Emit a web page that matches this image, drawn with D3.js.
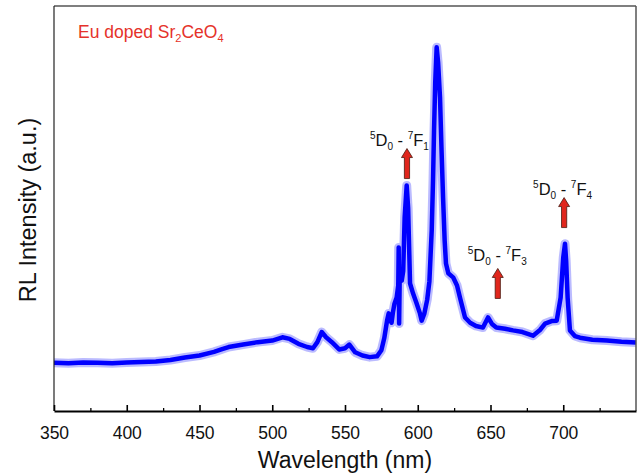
<!DOCTYPE html>
<html>
<head>
<meta charset="utf-8">
<script src="https://cdn.jsdelivr.net/npm/d3@7"></script>
<style>
  body { margin: 0; background: #fff; }
  text { font-family: "Liberation Sans", Arial, sans-serif; }
</style>
</head>
<body>
<script>
// spectrum (wavelength in nm, intensity in a.u.)
var wavelength = [350, 360, 370, 380, 390, 400, 410, 420, 430, 440, 450, 460, 465, 470, 480, 490,
  500, 507, 512, 518, 524, 528, 531, 534, 537, 541, 546, 550, 553, 557, 562, 567, 572, 575, 577,
  579, 580, 581, 582, 583, 584, 585.5, 586.6, 586.9, 587.2, 587.6, 589, 590, 591, 592.4, 593.4,
  594.7, 596.8, 599, 601.5, 602.7, 604.5, 606.5, 608, 609.6, 610.5, 611.2, 612, 613, 614, 615.3,
  616.3, 617.4, 618.5, 619.4, 621, 624.3, 627, 629, 632.5, 636, 640, 644.8, 648.3, 651, 654, 660,
  665.5, 672, 679.2, 684, 687.5, 692, 695.5, 698.2, 700, 701.2, 702, 703, 704.6, 708, 711.5, 720,
  730, 740, 750];
var intensity = [119, 118, 120, 119, 118, 120, 121, 122, 126, 132, 137, 146, 152, 158, 164, 170,
  174, 182, 178, 166, 158, 155, 170, 195, 182, 170, 152, 155, 164, 145, 137, 133, 135, 150, 180,
  225, 241, 225, 218, 245, 265, 280, 310, 404, 216, 330, 322, 345, 478, 557, 500,
  315, 290, 268, 241, 223, 240, 275, 320, 446, 570, 693, 810, 898, 860, 774,
  650, 527, 420, 364, 340, 330, 310, 280, 231, 218, 210, 206, 231, 215, 206, 203,
  199, 195, 186, 200, 216, 222, 223, 280, 379, 413, 370, 280, 199, 185, 181, 176,
  174, 171, 169];

var xTicks = [350, 400, 450, 500, 550, 600, 650, 700];
var xMinorTicks = [375, 425, 475, 525, 575, 625, 675, 725];

// transition labels: arrow at wavelength, arrow tip at intensity
var lineUpper = ['1', '3', '4'];
var arrowWl = [592.6, 655, 700.6];
var arrowTip = [648, 352, 527];

var W = 638, H = 476;
var mLeft = 54, mRight = 636, mTop = 6, mBottom = 411;

var svg = d3.select('body').append('svg')
  .attr('width', W)
  .attr('height', H);

var x = d3.scaleLinear().domain([350, 750]).range([mLeft, mRight]);
var y = d3.scaleLinear().domain([0, 1000]).range([mBottom, mTop]);

svg.append('clipPath').attr('id', 'plot')
  .append('rect')
  .attr('x', mLeft).attr('y', mTop)
  .attr('width', mRight - mLeft).attr('height', mBottom - mTop);

var pts = wavelength.map(function(w, i) { return [w, intensity[i]]; });
var line = d3.line()
  .x(function(d) { return x(d[0]); })
  .y(function(d) { return y(d[1]); });

// noisy band: faint halo under a solid core
var g = svg.append('g').attr('clip-path', 'url(#plot)');
g.append('path')
  .datum(pts)
  .attr('d', line)
  .attr('fill', 'none')
  .attr('stroke', 'rgba(30,30,255,0.3)')
  .attr('stroke-width', 9)
  .attr('stroke-linejoin', 'round');
g.append('path')
  .datum(pts)
  .attr('d', line)
  .attr('fill', 'none')
  .attr('stroke', '#0000ff')
  .attr('stroke-width', 4.5)
  .attr('stroke-linejoin', 'round');

// frame
svg.append('line')
  .attr('x1', mLeft).attr('y1', mTop).attr('x2', mRight).attr('y2', mTop)
  .attr('stroke', '#555').attr('stroke-width', 1.5);
svg.append('line')
  .attr('x1', mRight).attr('y1', mTop).attr('x2', mRight).attr('y2', mBottom)
  .attr('stroke', '#555').attr('stroke-width', 1.5);
svg.append('line')
  .attr('x1', mLeft).attr('y1', mTop).attr('x2', mLeft).attr('y2', mBottom)
  .attr('stroke', '#222').attr('stroke-width', 1.2);

// x axis, ticks pointing inward
var minor = svg.append('g')
  .attr('transform', 'translate(0,' + mBottom + ')')
  .call(d3.axisBottom(x).tickValues(xMinorTicks).tickSize(-3).tickSizeOuter(0).tickFormat(''));
minor.select('.domain').remove();
minor.selectAll('line').attr('stroke', '#000').attr('stroke-width', 1.3);

var xAxis = svg.append('g')
  .attr('transform', 'translate(0,' + mBottom + ')')
  .call(d3.axisBottom(x).tickValues(xTicks).tickSize(-6).tickSizeOuter(0).tickPadding(15.5));
xAxis.select('.domain').attr('stroke', '#000').attr('stroke-width', 2);
xAxis.selectAll('line').attr('stroke', '#000').attr('stroke-width', 1.6);
xAxis.selectAll('text')
  .attr('font-family', '"Liberation Sans", Arial, sans-serif')
  .attr('font-size', 17.5)
  .attr('fill', '#111');

svg.append('text')
  .attr('x', 345).attr('y', 468)
  .attr('text-anchor', 'middle')
  .attr('font-size', 23)
  .attr('fill', '#111')
  .text('Wavelength (nm)');

svg.append('text')
  .attr('transform', 'translate(36,210) rotate(-90)')
  .attr('text-anchor', 'middle')
  .attr('font-size', 23.5)
  .attr('fill', '#111')
  .text('RL Intensity (a.u.)');

// sample name
var t = svg.append('text')
  .attr('x', 78).attr('y', 38)
  .attr('font-size', 17.5)
  .attr('fill', '#e5322a');
t.append('tspan').text('Eu doped Sr');
t.append('tspan').attr('font-size', 11).attr('dy', 4).text('2');
t.append('tspan').attr('dy', -4).text('CeO');
t.append('tspan').attr('font-size', 11).attr('dy', 4).text('4');

// arrows + transition labels
var labelDx = [-37, -30, -31];
var labelGap = [3, 7, 3];
var arrow = 'M0,0 L5.5,9 L2.6,9 L2.6,30 L-2.6,30 L-2.6,9 L-5.5,9 Z';

arrowWl.forEach(function(w, i) {
  var ax = x(w), ay = y(arrowTip[i]);
  svg.append('path')
    .attr('d', arrow)
    .attr('transform', 'translate(' + ax + ',' + ay + ')')
    .attr('fill', '#e0261c')
    .attr('stroke', '#4a1a10')
    .attr('stroke-width', 0.8);

  var lab = svg.append('text')
    .attr('x', ax + labelDx[i])
    .attr('y', ay - labelGap[i])
    .attr('font-size', 16.5)
    .attr('fill', '#111');
  lab.append('tspan').attr('font-size', 10).attr('dy', -7).text('5');
  lab.append('tspan').attr('dy', 7).text('D');
  lab.append('tspan').attr('font-size', 10).attr('dy', 4).text('0');
  lab.append('tspan').attr('dy', -4).text(' - ');
  lab.append('tspan').attr('font-size', 10).attr('dy', -7).text('7');
  lab.append('tspan').attr('dy', 7).text('F');
  lab.append('tspan').attr('font-size', 10).attr('dy', 4).text(lineUpper[i]);
});
</script>
</body>
</html>
